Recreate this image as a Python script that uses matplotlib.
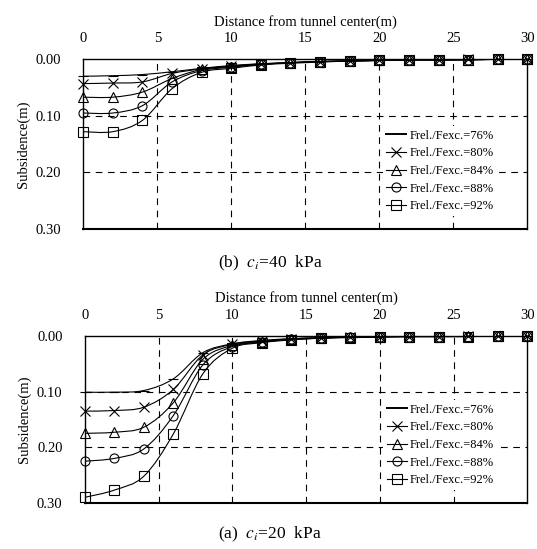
import numpy as np
import matplotlib.pyplot as plt
from matplotlib.path import Path
from matplotlib.patches import PathPatch
from matplotlib.lines import Line2D

plt.rcParams['font.family'] = ['Liberation Serif', 'DejaVu Serif']
plt.rcParams['mathtext.fontset'] = 'stix'

# distance from tunnel center (m)
dist = [0, 2, 4, 6, 8, 10, 12, 14, 16, 18, 20, 22, 24, 26, 28, 30]
labels = ['Frel./Fexc.=76%', 'Frel./Fexc.=80%', 'Frel./Fexc.=84%',
          'Frel./Fexc.=88%', 'Frel./Fexc.=92%']
markers = ['_', 'x', '^', 'o', 's']

# (b) ci = 40 kPa, subsidence (m)
b_76 = [0.030, 0.029, 0.027, 0.022, 0.016, 0.011, 0.008, 0.006, 0.004, 0.003, 0.002, 0.001, 0.001, 0.000, 0.000, 0.000]
b_80 = [0.043, 0.042, 0.040, 0.025, 0.017, 0.012, 0.008, 0.006, 0.004, 0.003, 0.002, 0.001, 0.001, 0.000, 0.000, 0.000]
b_84 = [0.067, 0.067, 0.058, 0.034, 0.018, 0.013, 0.009, 0.006, 0.004, 0.003, 0.002, 0.001, 0.001, 0.001, 0.000, 0.000]
b_88 = [0.095, 0.095, 0.082, 0.040, 0.020, 0.014, 0.009, 0.006, 0.004, 0.003, 0.002, 0.001, 0.001, 0.001, 0.000, 0.000]
b_92 = [0.128, 0.128, 0.108, 0.052, 0.023, 0.016, 0.010, 0.007, 0.005, 0.003, 0.002, 0.001, 0.001, 0.001, 0.000, 0.000]

# (a) ci = 20 kPa, subsidence (m)
a_76 = [0.101, 0.101, 0.098, 0.077, 0.030, 0.014, 0.008, 0.005, 0.003, 0.002, 0.001, 0.001, 0.000, 0.000, 0.000, 0.000]
a_80 = [0.135, 0.134, 0.128, 0.096, 0.034, 0.015, 0.009, 0.005, 0.003, 0.002, 0.001, 0.001, 0.001, 0.000, 0.000, 0.000]
a_84 = [0.175, 0.173, 0.164, 0.120, 0.042, 0.017, 0.010, 0.006, 0.004, 0.002, 0.001, 0.001, 0.001, 0.000, 0.000, 0.000]
a_88 = [0.225, 0.220, 0.203, 0.143, 0.052, 0.019, 0.011, 0.006, 0.004, 0.002, 0.002, 0.001, 0.001, 0.001, 0.000, 0.000]
a_92 = [0.290, 0.277, 0.252, 0.176, 0.068, 0.022, 0.012, 0.007, 0.004, 0.003, 0.002, 0.001, 0.001, 0.001, 0.000, 0.000]


def smooth_path(x, y):
    # catmull-rom style bezier through the points (like excel smoothed line)
    p = np.column_stack([x, y]).astype(float)
    q = np.vstack([p[0], p, p[-1]])
    verts = [p[0]]
    codes = [Path.MOVETO]
    for i in range(len(p) - 1):
        c1 = q[i + 1] + (q[i + 2] - q[i]) / 6
        c2 = q[i + 2] - (q[i + 3] - q[i + 1]) / 6
        verts += [c1, c2, q[i + 2]]
        codes += [Path.CURVE4] * 3
    return Path(verts, codes)


def draw(ax, series):
    for ys, m, lab in zip(series, markers, labels):
        ax.add_patch(PathPatch(smooth_path(dist, ys), fill=False, ec='black', lw=0.8, zorder=3))
        ax.plot(dist, ys, ls='none', marker=m, ms=6.5 if m != 'x' else 7,
                mfc='none', mec='black', mew=0.8, clip_on=False, zorder=4)
    ax.set_xlim(0, 30)
    ax.set_ylim(0.30, 0.0)
    ax.xaxis.tick_top()
    ax.xaxis.set_label_position('top')
    ax.set_xticks(range(0, 31, 5))
    ax.set_yticks([0.0, 0.1, 0.2, 0.3])
    ax.set_yticklabels(['0.00', '0.10', '0.20', '0.30'])
    ax.tick_params(axis='x', length=0, pad=10, labelsize=10.5)
    ax.tick_params(axis='y', length=0, pad=16, labelsize=10.5)
    ax.set_xlabel('Distance from tunnel center(m)', fontsize=10.5, labelpad=5)
    ax.set_ylabel('Subsidence(m)', fontsize=10.5, labelpad=4)
    for s in ax.spines.values():
        s.set_linewidth(1.0)
    ax.spines['bottom'].set_linewidth(1.5)
    for g in [5, 10, 15, 20, 25]:
        ax.axvline(g, color='black', lw=0.8, ls=(0, (6, 5)), zorder=1)
    for g in [0.1, 0.2]:
        ax.axhline(g, color='black', lw=0.8, ls=(0, (6, 5)), zorder=1)
    handles = [Line2D([], [], color='black', lw=0.8 if m != '_' else 1.4, marker=m if m != '_' else None,
                      ms=6.5, mfc='none', mec='black', mew=0.8) for m in markers]
    leg = ax.legend(handles, labels, loc='lower left', bbox_to_anchor=(0.66, 0.04),
                    fontsize=9, frameon=True, fancybox=False, edgecolor='none',
                    facecolor='white', framealpha=1, handlelength=1.6,
                    handletextpad=0.25, labelspacing=0.45, borderpad=0.3)
    leg.set_zorder(5)


fig = plt.figure(figsize=(5.37, 5.49), dpi=100)
ax_b = fig.add_axes([0.155, 0.583, 0.827, 0.309])
ax_a = fig.add_axes([0.158, 0.084, 0.824, 0.304])

draw(ax_b, [b_76, b_80, b_84, b_88, b_92])
draw(ax_a, [a_76, a_80, a_84, a_88, a_92])

fig.text(0.503, 0.521, r'(b)  $c_i$=40  kPa', ha='center', va='center', fontsize=12.5)
fig.text(0.503, 0.027, r'(a)  $c_i$=20  kPa', ha='center', va='center', fontsize=12.5)

fig.savefig('out.png', dpi=100)
